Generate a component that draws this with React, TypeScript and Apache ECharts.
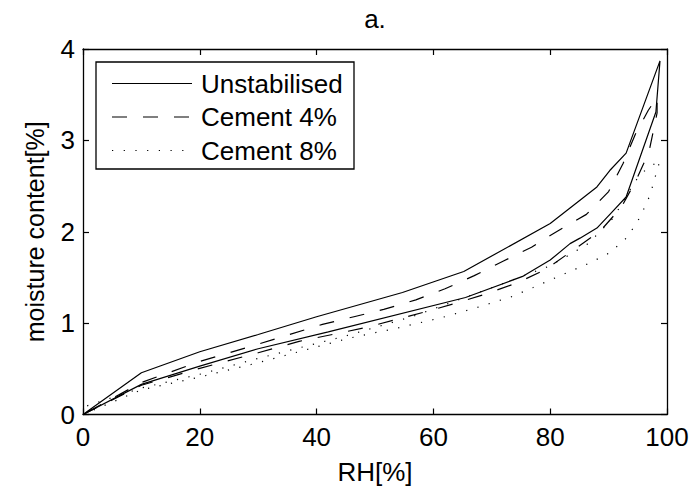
import React, { useEffect, useRef } from "react";
import * as echarts from "echarts";

// Unstabilised: adsorption (lower branch) then desorption (upper branch)
const unstabilisedAdsorption: number[][] = [
  [0, 0], [10, 0.33], [20, 0.53], [30, 0.72], [42, 0.905], [65.5, 1.28],
  [75.4, 1.515], [80, 1.69], [83.4, 1.87], [85.1, 1.93], [88, 2.04],
  [90.5, 2.21], [93, 2.38], [98.1, 3.31],
];
const unstabilisedDesorption: number[][] = [
  [98.8, 3.87], [93, 2.86], [90.2, 2.67], [88, 2.49], [80, 2.09],
  [65.2, 1.565], [54.7, 1.335], [40, 1.07], [30, 0.875], [20, 0.687],
  [10, 0.457], [0, 0],
];

// Cement 4%
const cement4Adsorption: number[][] = [
  [0, 0], [10, 0.32], [20, 0.505], [30, 0.676], [37, 0.8], [48.3, 0.95],
  [59, 1.13], [64, 1.22], [69.5, 1.33], [74.5, 1.445], [79.3, 1.59],
  [88.6, 2.01], [92.2, 2.27], [94.6, 2.55], [96.9, 2.87], [98.3, 3.3],
];
const cement4Desorption: number[][] = [
  [98.3, 3.47], [96.8, 3.33], [94.6, 3.07], [92.5, 2.75], [90, 2.44],
  [86.2, 2.19], [80, 1.96], [76.8, 1.83], [72, 1.68], [67, 1.52],
  [62, 1.376], [57, 1.255], [51.5, 1.15], [46.4, 1.07], [41, 0.986],
  [30, 0.77], [20, 0.58], [10, 0.35], [0, 0],
];

// Cement 8%
const cement8Adsorption: number[][] = [
  [0, 0], [10, 0.27], [20, 0.41], [30, 0.567], [45.4, 0.833], [53.4, 0.94],
  [61.4, 1.06], [67.4, 1.17], [73.4, 1.29], [77.1, 1.39], [82.8, 1.55],
  [86.5, 1.65], [90.2, 1.77], [93.2, 1.94], [95.4, 2.16], [97.1, 2.4],
  [98.2, 2.65], [98.8, 2.78],
];
const cement8Desorption: number[][] = [
  [98.8, 2.78], [96.5, 2.69], [94.5, 2.55], [90.8, 2.15], [86.5, 1.87],
  [83.1, 1.74], [79.7, 1.62], [69.7, 1.38], [56.3, 1.07], [45, 0.86],
  [30, 0.614], [20, 0.44], [10, 0.29], [0, 0.08],
];

const seriesNames = ["Unstabilised", "Cement 4%", "Cement 8%"];
const titleText = "a.";
const xName = "RH[%]";
const yName = "moisture content[%]";

const FONT = "'Liberation Sans', Arial, Helvetica, sans-serif";

export default function App() {
  const ref = useRef<HTMLDivElement>(null);

  useEffect(() => {
    if (!ref.current) return;
    const chart = echarts.init(ref.current, undefined, { renderer: "svg" });

    const dashStyles: any[] = ["solid", [15, 16], [1.2, 10.5]];
    const lineData = [
      [...unstabilisedAdsorption, ...unstabilisedDesorption],
      [...cement4Adsorption, ...cement4Desorption],
      [...cement8Adsorption, ...cement8Desorption],
    ];

    const axisLine = { show: true, onZero: false, lineStyle: { color: "#000", width: 1.3 } };
    const axisTick = { show: true, inside: true, length: 6, lineStyle: { color: "#000", width: 1.2 } };
    const labelStyle = { color: "#000", fontSize: 25, fontFamily: FONT };

    const legendRows = [83.5, 117, 150.5];
    const legendGraphics: any[] = [
      {
        type: "rect",
        shape: { x: 96, y: 62, width: 258, height: 107 },
        style: { fill: "#fff", stroke: "#000", lineWidth: 1.3 },
        z: 100,
      },
    ];
    seriesNames.forEach((name, i) => {
      legendGraphics.push({
        type: "line",
        shape: { x1: 112, y1: legendRows[i], x2: 192, y2: legendRows[i] },
        style: {
          stroke: "#000",
          lineWidth: 1.2,
          lineDash: dashStyles[i] === "solid" ? null : dashStyles[i],
        },
        z: 101,
      });
      legendGraphics.push({
        type: "text",
        x: 201,
        y: legendRows[i],
        style: {
          text: name,
          fill: "#000",
          font: `26px ${FONT}`,
          textAlign: "left",
          textVerticalAlign: "middle",
        },
        z: 101,
      });
    });

    chart.setOption({
      animation: false,
      backgroundColor: "#fff",
      grid: { left: 83, top: 49, width: 584, height: 365.5, containLabel: false },
      xAxis: [
        {
          type: "value",
          min: 0,
          max: 100,
          interval: 20,
          position: "bottom",
          axisLine,
          axisTick,
          splitLine: { show: false },
          axisLabel: { ...labelStyle, fontSize: 26, margin: 9 },
          name: xName,
          nameLocation: "middle",
          nameGap: 44,
          nameTextStyle: { ...labelStyle, fontSize: 26 },
        },
        {
          type: "value",
          min: 0,
          max: 100,
          interval: 20,
          position: "top",
          axisLine,
          axisTick,
          splitLine: { show: false },
          axisLabel: { show: false },
        },
      ],
      yAxis: [
        {
          type: "value",
          min: 0,
          max: 4,
          interval: 1,
          position: "left",
          axisLine,
          axisTick,
          splitLine: { show: false },
          axisLabel: { ...labelStyle, fontSize: 26, margin: 8 },
          name: yName,
          nameLocation: "middle",
          nameGap: 36,
          nameTextStyle: { ...labelStyle },
        },
        {
          type: "value",
          min: 0,
          max: 4,
          interval: 1,
          position: "right",
          axisLine,
          axisTick,
          splitLine: { show: false },
          axisLabel: { show: false },
        },
      ],
      series: seriesNames.map((name, i) => ({
        name,
        type: "line",
        xAxisIndex: 0,
        yAxisIndex: 0,
        data: lineData[i],
        showSymbol: false,
        symbol: "none",
        smooth: false,
        clip: true,
        lineStyle: { color: "#000", width: 1.2, type: dashStyles[i] },
      })),
      graphic: [
        {
          type: "text",
          x: 375,
          y: 19,
          style: {
            text: titleText,
            fill: "#000",
            font: `26px ${FONT}`,
            textAlign: "center",
            textVerticalAlign: "middle",
          },
        },
        ...legendGraphics,
      ],
    });

    return () => chart.dispose();
  }, []);

  return (
    <div
      ref={ref}
      style={{ position: "fixed", left: 0, top: 0, width: 693, height: 493, background: "#fff" }}
    />
  );
}
